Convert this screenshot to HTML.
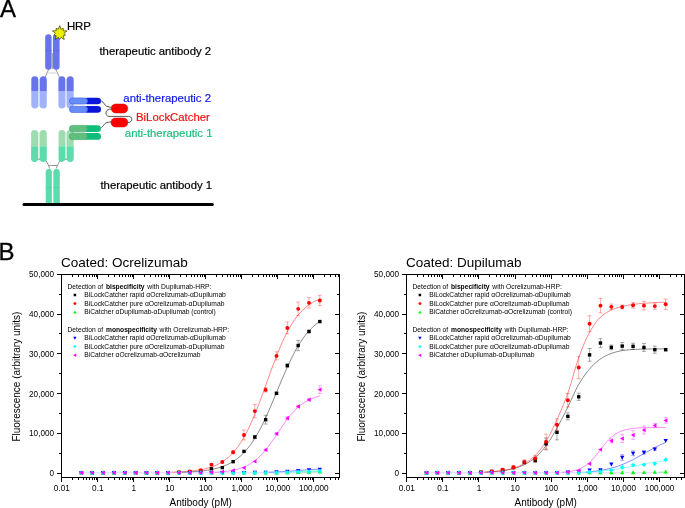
<!DOCTYPE html>
<html lang="en">
<head>
<meta charset="utf-8">
<title>BiLockCatcher figure</title>
<style>
html,body{margin:0;padding:0;background:#fff;}
body{width:685px;height:508px;overflow:hidden;}
svg{display:block;font-family:'Liberation Sans', Arial, sans-serif;}
</style>
</head>
<body>
<svg width="685" height="508" viewBox="0 0 685 508">
<rect width="685" height="508" fill="#fff"/>
<g id="panelA">
<!-- surface -->
<line x1="24" y1="204.6" x2="212.3" y2="204.6" stroke="#000" stroke-width="3" stroke-linecap="round"/>
<!-- therapeutic antibody 2 (blue) -->
<g>
<line x1="52.25" y1="53" x2="52.25" y2="69" stroke="#9a9a9a" stroke-width="1"/>
<rect x="45.2" y="34.2" width="6.4" height="35.6" rx="3.2" fill="#6874ec"/>
<rect x="52.9" y="34.2" width="6.7" height="35.6" rx="3.3" fill="#6874ec"/>
<path d="M45.2,50.6h6.4M52.9,50.6h6.7" stroke="#5c68e0" stroke-width="0.6"/>
<path d="M48.6,69.5L45,77.6M55.9,69.5L59.6,77.6" stroke="#333" stroke-width="0.5" fill="none"/>
<line x1="48.3" y1="73" x2="56.3" y2="73" stroke="#cfcfcf" stroke-width="1"/>
<rect x="38" y="79" width="2" height="28" fill="#e4e8fb"/>
<rect x="65" y="79" width="2" height="28" fill="#e4e8fb"/>
<g id="fabB">
<path d="M31.3,91V79.7a3.45,3.45 0 0 1 6.9,0V91z" fill="#6874ec"/>
<path d="M31.3,91V105.1a3.45,3.45 0 0 0 6.9,0V91z" fill="#9fb2fa"/>
<path d="M39.8,91V79.8a3.5,3.5 0 0 1 7,0V91z" fill="#6874ec"/>
<path d="M39.8,91V105a3.5,3.5 0 0 0 7,0V91z" fill="#9fb2fa"/>
<path d="M58.4,91V79.7a3.4,3.4 0 0 1 6.8,0V91z" fill="#6874ec"/>
<path d="M58.4,91V105.1a3.4,3.4 0 0 0 6.8,0V91z" fill="#9fb2fa"/>
<path d="M66.7,91V79.8a3.5,3.5 0 0 1 7,0V91z" fill="#6874ec"/>
<path d="M66.7,91V105a3.5,3.5 0 0 0 7,0V91z" fill="#9fb2fa"/>
</g>
</g>
<!-- therapeutic antibody 1 (green) -->
<g>
<rect x="38" y="132" width="2" height="28" fill="#dff3e8"/>
<rect x="65" y="132" width="2" height="28" fill="#dff3e8"/>
<path d="M31.1,146.2V133.45a3.45,3.45 0 0 1 6.9,0V146.2z" fill="#9edcb0"/>
<path d="M31.1,146.2V158.45a3.45,3.45 0 0 0 6.9,0V146.2z" fill="#5cdcac"/>
<path d="M39.8,146.2V133.5a3.5,3.5 0 0 1 7,0V146.2z" fill="#9edcb0"/>
<path d="M39.8,146.2V158.4a3.5,3.5 0 0 0 7,0V146.2z" fill="#5cdcac"/>
<path d="M58.6,146.2V133.3a3.3,3.3 0 0 1 6.6,0V146.2z" fill="#9edcb0"/>
<path d="M58.6,146.2V158.6a3.3,3.3 0 0 0 6.6,0V146.2z" fill="#5cdcac"/>
<path d="M66.8,146.2V133.45a3.45,3.45 0 0 1 6.9,0V146.2z" fill="#9edcb0"/>
<path d="M66.8,146.2V158.45a3.45,3.45 0 0 0 6.9,0V146.2z" fill="#5cdcac"/>
<path d="M37.8,159.2h2.2M65,159.2h2" stroke="#444" stroke-width="0.5"/>
<path d="M46,160.6L48.6,165.5L49.6,168.6M59.8,160.6L57.4,165.5L56.2,168.6M48.6,165.5H57.4" stroke="#333" stroke-width="0.5" fill="none"/>
<path d="M45.7,203V172.1a3.1,3.1 0 0 1 6.2,0V203z" fill="#5cdcac"/>
<path d="M53.3,203V172.2a3.25,3.25 0 0 1 6.5,0V203z" fill="#5cdcac"/>
<path d="M45.7,187.5h6.2M53.3,187.5h6.5" stroke="#4fcfa0" stroke-width="0.6"/>
</g>
<!-- star -->
<polygon id="star" points="59.70,25.60 61.03,29.21 63.29,28.36 63.18,30.77 67.02,30.92 64.00,33.30 65.50,35.19 63.18,35.83 64.23,39.53 61.03,37.39 59.70,39.40 58.37,37.39 55.17,39.53 56.22,35.83 53.90,35.19 55.40,33.30 52.38,30.92 56.22,30.77 56.11,28.36 58.37,29.21" fill="#eeee00" stroke="#2a2a00" stroke-width="0.65"/>
<!-- anti-therapeutic 2 bars -->
<g>
<rect x="84" y="97.7" width="17" height="6.6" rx="3.3" fill="#0a16dc"/><rect x="69.4" y="97.90" width="18.2" height="6.20" rx="3.10" fill="#668df6" stroke="#3f5fe0" stroke-width="0.6"/>
<rect x="84" y="106.1" width="17" height="6.6" rx="3.3" fill="#0a16dc"/><rect x="69.4" y="106.30" width="18.2" height="6.20" rx="3.10" fill="#668df6" stroke="#3f5fe0" stroke-width="0.6"/>
</g>
<!-- anti-therapeutic 1 bars -->
<g>
<rect x="84" y="125.2" width="17" height="6.8" rx="3.4" fill="#12bd7c"/><rect x="69.4" y="125.40" width="18.2" height="6.40" rx="3.20" fill="#5fbf7e" stroke="#3a9e62" stroke-width="0.6"/>
<rect x="84" y="133" width="17" height="6.8" rx="3.4" fill="#12bd7c"/><rect x="69.4" y="133.20" width="18.2" height="6.40" rx="3.20" fill="#5fbf7e" stroke="#3a9e62" stroke-width="0.6"/>
</g>
<!-- linkers -->
<path d="M101.1,100.8C104,102 104.5,105.5 106.7,106.3C108.3,106.9 110,107 111.6,107.4" fill="none" stroke="#111" stroke-width="0.7"/>
<path d="M111.6,108.9C110,109.3 108.6,109.3 107.6,110C105.6,111.4 105.4,114.6 107.4,116C108.4,116.5 109.5,116.4 111,116.4H128.4C130.5,116.4 131.8,117.6 131.8,119.3C131.8,121.2 130.4,122.3 127.9,122.6" fill="none" stroke="#111" stroke-width="0.7"/>
<path d="M101.3,127.6C103.5,126.5 103.8,124 105.8,123C107.4,122.2 109.4,122.1 111.2,121.8" fill="none" stroke="#111" stroke-width="0.7"/>
<!-- red capsules -->
<rect x="111.2" y="104" width="16.6" height="9" rx="4.5" fill="#ff0000" stroke="#d00000" stroke-width="0.5"/>
<path d="M113,109.2C115.5,109.6 117.6,108.4 118.3,106.6C118.7,105.4 119.4,104.6 120.6,104.3" fill="none" stroke="#c00000" stroke-width="0.5"/>
<rect x="111" y="118" width="16.9" height="9" rx="4.5" fill="#ff0000" stroke="#d00000" stroke-width="0.5"/>
<path d="M112.8,123.2C115.3,123.6 117.4,122.4 118.1,120.6C118.5,119.4 119.2,118.6 120.4,118.3" fill="none" stroke="#c00000" stroke-width="0.5"/>
<!-- labels -->
<g font-size="11.35" stroke-width="0.2">
<text x="211.1" y="54.9" text-anchor="end" fill="#000" stroke="#000">therapeutic antibody 2</text>
<text x="211" y="102" text-anchor="end" fill="#1420e4" stroke="#1420e4">anti-therapeutic 2</text>
<text x="209.8" y="120.6" text-anchor="end" fill="#f01010" stroke="#f01010">BiLockCatcher</text>
<text x="212.5" y="136.7" text-anchor="end" fill="#1cc07e" stroke="#1cc07e">anti-therapeutic 1</text>
<text x="212.1" y="189.2" text-anchor="end" fill="#000" stroke="#000">therapeutic antibody 1</text>
</g>
<text x="66.9" y="29.7" font-size="11.4" fill="#000" stroke="#000" stroke-width="0.2">HRP</text>
</g>

<text x="0" y="17.2" font-size="24" stroke="#000" stroke-width="0.3">A</text>
<text x="-1.6" y="260" font-size="24" stroke="#000" stroke-width="0.3">B</text>
<g>
<text x="61" y="267.2" font-size="13.5" fill="#000">Coated: Ocrelizumab</text>
<path d="M81.42,472.8H319.84" stroke="#d9d0ff" stroke-width="0.9" fill="none"/>
<path d="M181.89,472.21 L183.39,472.16 L184.89,472.1 L186.39,472.03 L187.89,471.96 L189.39,471.89 L190.88,471.81 L192.38,471.71 L193.88,471.61 L195.38,471.51 L196.88,471.39 L198.38,471.26 L199.88,471.12 L201.38,470.96 L202.88,470.8 L204.38,470.61 L205.88,470.42 L207.38,470.2 L208.88,469.96 L210.38,469.7 L211.88,469.42 L213.38,469.12 L214.88,468.78 L216.38,468.42 L217.88,468.03 L219.37,467.6 L220.87,467.13 L222.37,466.63 L223.87,466.08 L225.37,465.48 L226.87,464.84 L228.37,464.14 L229.87,463.38 L231.37,462.56 L232.87,461.68 L234.37,460.72 L235.87,459.69 L237.37,458.58 L238.87,457.39 L240.37,456.1 L241.87,454.72 L243.37,453.25 L244.87,451.67 L246.37,449.98 L247.86,448.18 L249.36,446.27 L250.86,444.23 L252.36,442.08 L253.86,439.81 L255.36,437.41 L256.86,434.88 L258.36,432.24 L259.86,429.47 L261.36,426.59 L262.86,423.59 L264.36,420.48 L265.86,417.28 L267.36,413.98 L268.86,410.6 L270.36,407.14 L271.86,403.63 L273.36,400.07 L274.86,396.47 L276.35,392.85 L277.85,389.23 L279.35,385.61 L280.85,382.02 L282.35,378.46 L283.85,374.95 L285.35,371.5 L286.85,368.12 L288.35,364.83 L289.85,361.63 L291.35,358.53 L292.85,355.54 L294.35,352.66 L295.85,349.9 L297.35,347.26 L298.85,344.75 L300.35,342.35 L301.85,340.09 L303.35,337.94 L304.84,335.91 L306.34,334.01 L307.84,332.21 L309.34,330.53 L310.84,328.96 L312.34,327.49 L313.84,326.11 L315.34,324.84 L316.84,323.65 L318.34,322.54 L319.84,321.51" fill="none" stroke="#000000" stroke-width="0.55" stroke-opacity="0.85"/>
<path d="M171.39,472.2 L172.89,472.15 L174.39,472.1 L175.89,472.04 L177.39,471.98 L178.89,471.91 L180.39,471.83 L181.89,471.75 L183.39,471.66 L184.89,471.56 L186.39,471.45 L187.89,471.33 L189.39,471.19 L190.88,471.05 L192.38,470.89 L193.88,470.72 L195.38,470.53 L196.88,470.32 L198.38,470.09 L199.88,469.84 L201.38,469.57 L202.88,469.27 L204.38,468.95 L205.88,468.59 L207.38,468.21 L208.88,467.78 L210.38,467.32 L211.88,466.81 L213.38,466.26 L214.88,465.66 L216.38,465.01 L217.88,464.3 L219.37,463.52 L220.87,462.68 L222.37,461.77 L223.87,460.78 L225.37,459.7 L226.87,458.54 L228.37,457.28 L229.87,455.92 L231.37,454.46 L232.87,452.88 L234.37,451.19 L235.87,449.37 L237.37,447.42 L238.87,445.34 L240.37,443.12 L241.87,440.76 L243.37,438.25 L244.87,435.59 L246.37,432.79 L247.86,429.84 L249.36,426.74 L250.86,423.49 L252.36,420.11 L253.86,416.59 L255.36,412.95 L256.86,409.19 L258.36,405.33 L259.86,401.38 L261.36,397.35 L262.86,393.26 L264.36,389.12 L265.86,384.96 L267.36,380.78 L268.86,376.62 L270.36,372.48 L271.86,368.38 L273.36,364.34 L274.86,360.38 L276.35,356.5 L277.85,352.73 L279.35,349.08 L280.85,345.54 L282.35,342.14 L283.85,338.88 L285.35,335.76 L286.85,332.79 L288.35,329.96 L289.85,327.29 L291.35,324.76 L292.85,322.38 L294.35,320.14 L295.85,318.04 L297.35,316.08 L298.85,314.24 L300.35,312.53 L301.85,310.94 L303.35,309.46 L304.84,308.09 L306.34,306.82 L307.84,305.65 L309.34,304.56 L310.84,303.56 L312.34,302.64 L313.84,301.79 L315.34,301 L316.84,300.29 L318.34,299.62 L319.84,299.02" fill="none" stroke="#ff0000" stroke-width="0.55" stroke-opacity="0.85"/>
<path d="M295.85,472.2 L297.35,472.16 L298.85,472.12 L300.35,472.09 L301.85,472.05 L303.35,472.01 L304.84,471.97 L306.34,471.93 L307.84,471.89 L309.34,471.85 L310.84,471.82 L312.34,471.78 L313.84,471.75 L315.34,471.71 L316.84,471.68 L318.34,471.65 L319.84,471.62" fill="none" stroke="#00ff00" stroke-width="0.55" stroke-opacity="0.85"/>
<path d="M268.86,472.2 L270.36,472.15 L271.86,472.09 L273.36,472.03 L274.86,471.97 L276.35,471.9 L277.85,471.83 L279.35,471.75 L280.85,471.67 L282.35,471.59 L283.85,471.5 L285.35,471.41 L286.85,471.31 L288.35,471.21 L289.85,471.11 L291.35,471 L292.85,470.89 L294.35,470.78 L295.85,470.67 L297.35,470.55 L298.85,470.44 L300.35,470.32 L301.85,470.21 L303.35,470.1 L304.84,469.99 L306.34,469.88 L307.84,469.77 L309.34,469.66 L310.84,469.56 L312.34,469.46 L313.84,469.37 L315.34,469.28 L316.84,469.19 L318.34,469.11 L319.84,469.03" fill="none" stroke="#0000ff" stroke-width="0.55" stroke-opacity="0.85"/>
<path d="M285.35,472.17 L286.85,472.12 L288.35,472.06 L289.85,472.01 L291.35,471.95 L292.85,471.88 L294.35,471.82 L295.85,471.76 L297.35,471.69 L298.85,471.62 L300.35,471.55 L301.85,471.49 L303.35,471.42 L304.84,471.35 L306.34,471.28 L307.84,471.21 L309.34,471.15 L310.84,471.08 L312.34,471.02 L313.84,470.96 L315.34,470.9 L316.84,470.84 L318.34,470.79 L319.84,470.73" fill="none" stroke="#00ffff" stroke-width="0.55" stroke-opacity="0.85"/>
<path d="M214.88,472.25 L216.38,472.16 L217.88,472.07 L219.37,471.96 L220.87,471.85 L222.37,471.72 L223.87,471.57 L225.37,471.41 L226.87,471.23 L228.37,471.03 L229.87,470.8 L231.37,470.55 L232.87,470.28 L234.37,469.97 L235.87,469.63 L237.37,469.25 L238.87,468.84 L240.37,468.37 L241.87,467.86 L243.37,467.3 L244.87,466.68 L246.37,466 L247.86,465.26 L249.36,464.44 L250.86,463.54 L252.36,462.57 L253.86,461.51 L255.36,460.37 L256.86,459.13 L258.36,457.8 L259.86,456.37 L261.36,454.85 L262.86,453.22 L264.36,451.51 L265.86,449.7 L267.36,447.8 L268.86,445.83 L270.36,443.78 L271.86,441.67 L273.36,439.5 L274.86,437.3 L276.35,435.06 L277.85,432.82 L279.35,430.57 L280.85,428.34 L282.35,426.13 L283.85,423.97 L285.35,421.86 L286.85,419.82 L288.35,417.85 L289.85,415.96 L291.35,414.15 L292.85,412.44 L294.35,410.83 L295.85,409.31 L297.35,407.89 L298.85,406.56 L300.35,405.33 L301.85,404.19 L303.35,403.13 L304.84,402.17 L306.34,401.28 L307.84,400.46 L309.34,399.72 L310.84,399.04 L312.34,398.43 L313.84,397.87 L315.34,397.36 L316.84,396.9 L318.34,396.49 L319.84,396.11" fill="none" stroke="#ff00ff" stroke-width="0.55" stroke-opacity="0.85"/>
<path d="M254.82,435.47V438.65M252.82,435.47h4M252.82,438.65h4" stroke="#000000" stroke-opacity="0.6" stroke-width="0.55" fill="none"/><path d="M265.65,415.29V424.05M263.65,415.29h4M263.65,424.05h4" stroke="#000000" stroke-opacity="0.6" stroke-width="0.55" fill="none"/><path d="M276.49,392.17V394.56M274.49,392.17h4M274.49,394.56h4" stroke="#000000" stroke-opacity="0.6" stroke-width="0.55" fill="none"/><path d="M287.33,363.95V367.13M285.33,363.95h4M285.33,367.13h4" stroke="#000000" stroke-opacity="0.6" stroke-width="0.55" fill="none"/><path d="M298.17,340.35V350.7M296.17,340.35h4M296.17,350.7h4" stroke="#000000" stroke-opacity="0.6" stroke-width="0.55" fill="none"/><path d="M309,330.32V332.71M307,330.32h4M307,332.71h4" stroke="#000000" stroke-opacity="0.6" stroke-width="0.55" fill="none"/><rect x="79.72" y="471.1" width="3.4" height="3.4" fill="#000000"/><rect x="90.56" y="471.1" width="3.4" height="3.4" fill="#000000"/><rect x="101.4" y="471.1" width="3.4" height="3.4" fill="#000000"/><rect x="112.23" y="471.1" width="3.4" height="3.4" fill="#000000"/><rect x="123.07" y="471.1" width="3.4" height="3.4" fill="#000000"/><rect x="133.91" y="471.1" width="3.4" height="3.4" fill="#000000"/><rect x="144.75" y="471.1" width="3.4" height="3.4" fill="#000000"/><rect x="155.58" y="471.1" width="3.4" height="3.4" fill="#000000"/><rect x="166.42" y="471.1" width="3.4" height="3.4" fill="#000000"/><rect x="177.26" y="470.7" width="3.4" height="3.4" fill="#000000"/><rect x="188.09" y="470.11" width="3.4" height="3.4" fill="#000000"/><rect x="198.93" y="469.11" width="3.4" height="3.4" fill="#000000"/><rect x="209.77" y="467.12" width="3.4" height="3.4" fill="#000000"/><rect x="220.61" y="465.93" width="3.4" height="3.4" fill="#000000"/><rect x="231.44" y="459.96" width="3.4" height="3.4" fill="#000000"/><rect x="242.28" y="449.69" width="3.4" height="3.4" fill="#000000"/><rect x="253.12" y="435.36" width="3.4" height="3.4" fill="#000000"/><rect x="263.95" y="417.97" width="3.4" height="3.4" fill="#000000"/><rect x="274.79" y="391.66" width="3.4" height="3.4" fill="#000000"/><rect x="285.63" y="363.84" width="3.4" height="3.4" fill="#000000"/><rect x="296.47" y="343.82" width="3.4" height="3.4" fill="#000000"/><rect x="307.3" y="329.81" width="3.4" height="3.4" fill="#000000"/><rect x="318.14" y="319.86" width="3.4" height="3.4" fill="#000000"/>
<path d="M211.47,463.41V465.8M209.47,463.41h4M209.47,465.8h4" stroke="#ff0000" stroke-opacity="0.6" stroke-width="0.55" fill="none"/><path d="M222.31,460.86V463.25M220.31,460.86h4M220.31,463.25h4" stroke="#ff0000" stroke-opacity="0.6" stroke-width="0.55" fill="none"/><path d="M233.14,450.63V453.82M231.14,450.63h4M231.14,453.82h4" stroke="#ff0000" stroke-opacity="0.6" stroke-width="0.55" fill="none"/><path d="M243.98,430.02V439.97M241.98,430.02h4M241.98,439.97h4" stroke="#ff0000" stroke-opacity="0.6" stroke-width="0.55" fill="none"/><path d="M254.82,404.54V417.68M252.82,404.54h4M252.82,417.68h4" stroke="#ff0000" stroke-opacity="0.6" stroke-width="0.55" fill="none"/><path d="M265.65,387.71V392.09M263.65,387.71h4M263.65,392.09h4" stroke="#ff0000" stroke-opacity="0.6" stroke-width="0.55" fill="none"/><path d="M276.49,351.77V360.05M274.49,351.77h4M274.49,360.05h4" stroke="#ff0000" stroke-opacity="0.6" stroke-width="0.55" fill="none"/><path d="M287.33,321.96V333.9M285.33,321.96h4M285.33,333.9h4" stroke="#ff0000" stroke-opacity="0.6" stroke-width="0.55" fill="none"/><path d="M298.17,302.06V315.59M296.17,302.06h4M296.17,315.59h4" stroke="#ff0000" stroke-opacity="0.6" stroke-width="0.55" fill="none"/><path d="M309,297.68V308.03M307,297.68h4M307,308.03h4" stroke="#ff0000" stroke-opacity="0.6" stroke-width="0.55" fill="none"/><path d="M319.84,295.29V305.64M317.84,295.29h4M317.84,305.64h4" stroke="#ff0000" stroke-opacity="0.6" stroke-width="0.55" fill="none"/><circle cx="81.42" cy="472.8" r="1.95" fill="#ff0000"/><circle cx="92.26" cy="472.8" r="1.95" fill="#ff0000"/><circle cx="103.1" cy="472.8" r="1.95" fill="#ff0000"/><circle cx="113.93" cy="472.8" r="1.95" fill="#ff0000"/><circle cx="124.77" cy="472.8" r="1.95" fill="#ff0000"/><circle cx="135.61" cy="472.8" r="1.95" fill="#ff0000"/><circle cx="146.45" cy="472.8" r="1.95" fill="#ff0000"/><circle cx="157.28" cy="472.8" r="1.95" fill="#ff0000"/><circle cx="168.12" cy="472.8" r="1.95" fill="#ff0000"/><circle cx="178.96" cy="472.2" r="1.95" fill="#ff0000"/><circle cx="189.79" cy="471.41" r="1.95" fill="#ff0000"/><circle cx="200.63" cy="470.1" r="1.95" fill="#ff0000"/><circle cx="211.47" cy="464.6" r="1.95" fill="#ff0000"/><circle cx="222.31" cy="462.06" r="1.95" fill="#ff0000"/><circle cx="233.14" cy="452.23" r="1.95" fill="#ff0000"/><circle cx="243.98" cy="434.99" r="1.95" fill="#ff0000"/><circle cx="254.82" cy="411.11" r="1.95" fill="#ff0000"/><circle cx="265.65" cy="389.9" r="1.95" fill="#ff0000"/><circle cx="276.49" cy="355.91" r="1.95" fill="#ff0000"/><circle cx="287.33" cy="327.93" r="1.95" fill="#ff0000"/><circle cx="298.17" cy="308.83" r="1.95" fill="#ff0000"/><circle cx="309" cy="302.86" r="1.95" fill="#ff0000"/><circle cx="319.84" cy="300.47" r="1.95" fill="#ff0000"/>
<polygon points="81.42,470.59 83.56,474.53 79.29,474.53" fill="#00ff00"/><polygon points="92.26,470.59 94.4,474.53 90.12,474.53" fill="#00ff00"/><polygon points="103.1,470.59 105.24,474.53 100.96,474.53" fill="#00ff00"/><polygon points="113.93,470.59 116.07,474.53 111.8,474.53" fill="#00ff00"/><polygon points="124.77,470.59 126.91,474.53 122.63,474.53" fill="#00ff00"/><polygon points="135.61,470.59 137.75,474.53 133.47,474.53" fill="#00ff00"/><polygon points="146.45,470.59 148.58,474.53 144.31,474.53" fill="#00ff00"/><polygon points="157.28,470.59 159.42,474.53 155.15,474.53" fill="#00ff00"/><polygon points="168.12,470.59 170.26,474.53 165.98,474.53" fill="#00ff00"/><polygon points="178.96,470.59 181.09,474.53 176.82,474.53" fill="#00ff00"/><polygon points="189.79,470.59 191.93,474.53 187.66,474.53" fill="#00ff00"/><polygon points="200.63,470.59 202.77,474.53 198.49,474.53" fill="#00ff00"/><polygon points="211.47,470.59 213.61,474.53 209.33,474.53" fill="#00ff00"/><polygon points="222.31,470.59 224.44,474.53 220.17,474.53" fill="#00ff00"/><polygon points="233.14,470.59 235.28,474.53 231.01,474.53" fill="#00ff00"/><polygon points="243.98,470.59 246.12,474.53 241.84,474.53" fill="#00ff00"/><polygon points="254.82,470.55 256.95,474.49 252.68,474.49" fill="#00ff00"/><polygon points="265.65,470.51 267.79,474.45 263.52,474.45" fill="#00ff00"/><polygon points="276.49,470.47 278.63,474.41 274.35,474.41" fill="#00ff00"/><polygon points="287.33,470.31 289.47,474.25 285.19,474.25" fill="#00ff00"/><polygon points="298.17,470.07 300.3,474.01 296.03,474.01" fill="#00ff00"/><polygon points="309,469.84 311.14,473.77 306.86,473.77" fill="#00ff00"/><polygon points="319.84,469.64 321.98,473.57 317.7,473.57" fill="#00ff00"/>
<polygon points="81.42,475.05 83.56,471.11 79.29,471.11" fill="#0000ff"/><polygon points="92.26,475.05 94.4,471.11 90.12,471.11" fill="#0000ff"/><polygon points="103.1,475.05 105.24,471.11 100.96,471.11" fill="#0000ff"/><polygon points="113.93,475.05 116.07,471.11 111.8,471.11" fill="#0000ff"/><polygon points="124.77,475.05 126.91,471.11 122.63,471.11" fill="#0000ff"/><polygon points="135.61,475.05 137.75,471.11 133.47,471.11" fill="#0000ff"/><polygon points="146.45,475.05 148.58,471.11 144.31,471.11" fill="#0000ff"/><polygon points="157.28,475.05 159.42,471.11 155.15,471.11" fill="#0000ff"/><polygon points="168.12,475.05 170.26,471.11 165.98,471.11" fill="#0000ff"/><polygon points="178.96,475.05 181.09,471.11 176.82,471.11" fill="#0000ff"/><polygon points="189.79,475.05 191.93,471.11 187.66,471.11" fill="#0000ff"/><polygon points="200.63,475.05 202.77,471.11 198.49,471.11" fill="#0000ff"/><polygon points="211.47,475.05 213.61,471.11 209.33,471.11" fill="#0000ff"/><polygon points="222.31,475.05 224.44,471.11 220.17,471.11" fill="#0000ff"/><polygon points="233.14,474.97 235.28,471.03 231.01,471.03" fill="#0000ff"/><polygon points="243.98,474.85 246.12,470.92 241.84,470.92" fill="#0000ff"/><polygon points="254.82,474.73 256.95,470.8 252.68,470.8" fill="#0000ff"/><polygon points="265.65,474.57 267.79,470.64 263.52,470.64" fill="#0000ff"/><polygon points="276.49,474.26 278.63,470.32 274.35,470.32" fill="#0000ff"/><polygon points="287.33,473.66 289.47,469.72 285.19,469.72" fill="#0000ff"/><polygon points="298.17,472.86 300.3,468.93 296.03,468.93" fill="#0000ff"/><polygon points="309,472.27 311.14,468.33 306.86,468.33" fill="#0000ff"/><polygon points="319.84,471.67 321.98,467.73 317.7,467.73" fill="#0000ff"/>
<polygon points="81.42,470.53 83.77,472.88 81.42,475.23 79.07,472.88" fill="#00ffff"/><polygon points="92.26,470.53 94.61,472.88 92.26,475.23 89.91,472.88" fill="#00ffff"/><polygon points="103.1,470.53 105.45,472.88 103.1,475.23 100.75,472.88" fill="#00ffff"/><polygon points="113.93,470.53 116.28,472.88 113.93,475.23 111.58,472.88" fill="#00ffff"/><polygon points="124.77,470.53 127.12,472.88 124.77,475.23 122.42,472.88" fill="#00ffff"/><polygon points="135.61,470.53 137.96,472.88 135.61,475.23 133.26,472.88" fill="#00ffff"/><polygon points="146.45,470.53 148.8,472.88 146.45,475.23 144.1,472.88" fill="#00ffff"/><polygon points="157.28,470.53 159.63,472.88 157.28,475.23 154.93,472.88" fill="#00ffff"/><polygon points="168.12,470.53 170.47,472.88 168.12,475.23 165.77,472.88" fill="#00ffff"/><polygon points="178.96,470.53 181.31,472.88 178.96,475.23 176.61,472.88" fill="#00ffff"/><polygon points="189.79,470.53 192.14,472.88 189.79,475.23 187.44,472.88" fill="#00ffff"/><polygon points="200.63,470.53 202.98,472.88 200.63,475.23 198.28,472.88" fill="#00ffff"/><polygon points="211.47,470.53 213.82,472.88 211.47,475.23 209.12,472.88" fill="#00ffff"/><polygon points="222.31,470.53 224.66,472.88 222.31,475.23 219.96,472.88" fill="#00ffff"/><polygon points="233.14,470.53 235.49,472.88 233.14,475.23 230.79,472.88" fill="#00ffff"/><polygon points="243.98,470.49 246.33,472.84 243.98,475.19 241.63,472.84" fill="#00ffff"/><polygon points="254.82,470.45 257.17,472.8 254.82,475.15 252.47,472.8" fill="#00ffff"/><polygon points="265.65,470.37 268,472.72 265.65,475.07 263.3,472.72" fill="#00ffff"/><polygon points="276.49,470.25 278.84,472.6 276.49,474.95 274.14,472.6" fill="#00ffff"/><polygon points="287.33,469.97 289.68,472.32 287.33,474.67 284.98,472.32" fill="#00ffff"/><polygon points="298.17,469.58 300.52,471.93 298.17,474.28 295.82,471.93" fill="#00ffff"/><polygon points="309,469.18 311.35,471.53 309,473.88 306.65,471.53" fill="#00ffff"/><polygon points="319.84,468.78 322.19,471.13 319.84,473.48 317.49,471.13" fill="#00ffff"/>
<path d="M265.65,448.96V450.95M263.65,448.96h4M263.65,450.95h4" stroke="#ff00ff" stroke-opacity="0.6" stroke-width="0.55" fill="none"/><path d="M276.49,432.6V434.99M274.49,432.6h4M274.49,434.99h4" stroke="#ff00ff" stroke-opacity="0.6" stroke-width="0.55" fill="none"/><path d="M287.33,416.64V419.83M285.33,416.64h4M285.33,419.83h4" stroke="#ff00ff" stroke-opacity="0.6" stroke-width="0.55" fill="none"/><path d="M298.17,405.3V407.69M296.17,405.3h4M296.17,407.69h4" stroke="#ff00ff" stroke-opacity="0.6" stroke-width="0.55" fill="none"/><path d="M309,398.46V400.84M307,398.46h4M307,400.84h4" stroke="#ff00ff" stroke-opacity="0.6" stroke-width="0.55" fill="none"/><path d="M319.84,385.84V393.4M317.84,385.84h4M317.84,393.4h4" stroke="#ff00ff" stroke-opacity="0.6" stroke-width="0.55" fill="none"/><polygon points="79.17,472.8 83.11,470.66 83.11,474.94" fill="#ff00ff"/><polygon points="90.01,472.8 93.95,470.66 93.95,474.94" fill="#ff00ff"/><polygon points="100.85,472.8 104.79,470.66 104.79,474.94" fill="#ff00ff"/><polygon points="111.68,472.8 115.62,470.66 115.62,474.94" fill="#ff00ff"/><polygon points="122.52,472.8 126.46,470.66 126.46,474.94" fill="#ff00ff"/><polygon points="133.36,472.8 137.3,470.66 137.3,474.94" fill="#ff00ff"/><polygon points="144.2,472.8 148.13,470.66 148.13,474.94" fill="#ff00ff"/><polygon points="155.03,472.8 158.97,470.66 158.97,474.94" fill="#ff00ff"/><polygon points="165.87,472.8 169.81,470.66 169.81,474.94" fill="#ff00ff"/><polygon points="176.71,472.8 180.64,470.66 180.64,474.94" fill="#ff00ff"/><polygon points="187.54,472.8 191.48,470.66 191.48,474.94" fill="#ff00ff"/><polygon points="198.38,472.8 202.32,470.66 202.32,474.94" fill="#ff00ff"/><polygon points="209.22,472.4 213.16,470.27 213.16,474.54" fill="#ff00ff"/><polygon points="220.06,471.81 223.99,469.67 223.99,473.94" fill="#ff00ff"/><polygon points="230.89,470.45 234.83,468.32 234.83,472.59" fill="#ff00ff"/><polygon points="241.73,467.87 245.67,465.73 245.67,470" fill="#ff00ff"/><polygon points="252.57,461.42 256.5,459.28 256.5,463.56" fill="#ff00ff"/><polygon points="263.4,449.96 267.34,447.82 267.34,452.09" fill="#ff00ff"/><polygon points="274.24,433.8 278.18,431.66 278.18,435.94" fill="#ff00ff"/><polygon points="285.08,418.24 289.02,416.1 289.02,420.37" fill="#ff00ff"/><polygon points="295.92,406.5 299.85,404.36 299.85,408.63" fill="#ff00ff"/><polygon points="306.75,399.65 310.69,397.51 310.69,401.79" fill="#ff00ff"/><polygon points="317.59,389.62 321.53,387.48 321.53,391.76" fill="#ff00ff"/>
<rect x="61.5" y="274.5" width="278" height="203.0" fill="none" stroke="#000" stroke-width="1"/>
<path d="M57,473.5H61.5M339.5,473.5h-4.5M59,453.5H61.5M339.5,453.5h-2.5M57,433.5H61.5M339.5,433.5h-4.5M59,413.5H61.5M339.5,413.5h-2.5M57,393.5H61.5M339.5,393.5h-4.5M59,373.5H61.5M339.5,373.5h-2.5M57,353.5H61.5M339.5,353.5h-4.5M59,333.5H61.5M339.5,333.5h-2.5M57,314.5H61.5M339.5,314.5h-4.5M59,294.5H61.5M339.5,294.5h-2.5M57,274.5H61.5M339.5,274.5h-4.5M61.5,477.5v4.5M61.5,274.5v4.5M72.5,477.5v2.5M72.5,274.5v2.5M78.5,477.5v2.5M78.5,274.5v2.5M83.5,477.5v2.5M83.5,274.5v2.5M86.5,477.5v2.5M86.5,274.5v2.5M89.5,477.5v2.5M89.5,274.5v2.5M92.5,477.5v2.5M92.5,274.5v2.5M94.5,477.5v2.5M94.5,274.5v2.5M96.5,477.5v2.5M96.5,274.5v2.5M97.5,477.5v4.5M97.5,274.5v4.5M108.5,477.5v2.5M108.5,274.5v2.5M114.5,477.5v2.5M114.5,274.5v2.5M119.5,477.5v2.5M119.5,274.5v2.5M122.5,477.5v2.5M122.5,274.5v2.5M125.5,477.5v2.5M125.5,274.5v2.5M128.5,477.5v2.5M128.5,274.5v2.5M130.5,477.5v2.5M130.5,274.5v2.5M132.5,477.5v2.5M132.5,274.5v2.5M133.5,477.5v4.5M133.5,274.5v4.5M144.5,477.5v2.5M144.5,274.5v2.5M150.5,477.5v2.5M150.5,274.5v2.5M155.5,477.5v2.5M155.5,274.5v2.5M158.5,477.5v2.5M158.5,274.5v2.5M161.5,477.5v2.5M161.5,274.5v2.5M164.5,477.5v2.5M164.5,274.5v2.5M166.5,477.5v2.5M166.5,274.5v2.5M168.5,477.5v2.5M168.5,274.5v2.5M169.5,477.5v4.5M169.5,274.5v4.5M180.5,477.5v2.5M180.5,274.5v2.5M186.5,477.5v2.5M186.5,274.5v2.5M191.5,477.5v2.5M191.5,274.5v2.5M194.5,477.5v2.5M194.5,274.5v2.5M197.5,477.5v2.5M197.5,274.5v2.5M200.5,477.5v2.5M200.5,274.5v2.5M202.5,477.5v2.5M202.5,274.5v2.5M204.5,477.5v2.5M204.5,274.5v2.5M205.5,477.5v4.5M205.5,274.5v4.5M216.5,477.5v2.5M216.5,274.5v2.5M222.5,477.5v2.5M222.5,274.5v2.5M227.5,477.5v2.5M227.5,274.5v2.5M230.5,477.5v2.5M230.5,274.5v2.5M233.5,477.5v2.5M233.5,274.5v2.5M236.5,477.5v2.5M236.5,274.5v2.5M238.5,477.5v2.5M238.5,274.5v2.5M240.5,477.5v2.5M240.5,274.5v2.5M241.5,477.5v4.5M241.5,274.5v4.5M252.5,477.5v2.5M252.5,274.5v2.5M258.5,477.5v2.5M258.5,274.5v2.5M263.5,477.5v2.5M263.5,274.5v2.5M266.5,477.5v2.5M266.5,274.5v2.5M269.5,477.5v2.5M269.5,274.5v2.5M272.5,477.5v2.5M272.5,274.5v2.5M274.5,477.5v2.5M274.5,274.5v2.5M276.5,477.5v2.5M276.5,274.5v2.5M277.5,477.5v4.5M277.5,274.5v4.5M288.5,477.5v2.5M288.5,274.5v2.5M294.5,477.5v2.5M294.5,274.5v2.5M299.5,477.5v2.5M299.5,274.5v2.5M302.5,477.5v2.5M302.5,274.5v2.5M305.5,477.5v2.5M305.5,274.5v2.5M308.5,477.5v2.5M308.5,274.5v2.5M310.5,477.5v2.5M310.5,274.5v2.5M312.5,477.5v2.5M312.5,274.5v2.5M313.5,477.5v4.5M313.5,274.5v4.5M324.5,477.5v2.5M324.5,274.5v2.5M330.5,477.5v2.5M330.5,274.5v2.5M335.5,477.5v2.5M335.5,274.5v2.5M338.5,477.5v2.5M338.5,274.5v2.5" stroke="#000" stroke-width="1" fill="none"/>
<g font-size="8.2" fill="#000"><text x="54.1" y="476.1" text-anchor="end">0</text><text x="54.1" y="436.3" text-anchor="end">10,000</text><text x="54.1" y="396.5" text-anchor="end">20,000</text><text x="54.1" y="356.7" text-anchor="end">30,000</text><text x="54.1" y="316.9" text-anchor="end">40,000</text><text x="54.1" y="277.1" text-anchor="end">50,000</text><text x="61.8" y="490.7" text-anchor="middle">0.01</text><text x="97.8" y="490.7" text-anchor="middle">0.1</text><text x="133.8" y="490.7" text-anchor="middle">1</text><text x="169.8" y="490.7" text-anchor="middle">10</text><text x="205.8" y="490.7" text-anchor="middle">100</text><text x="241.8" y="490.7" text-anchor="middle">1,000</text><text x="277.8" y="490.7" text-anchor="middle">10,000</text><text x="313.8" y="490.7" text-anchor="middle">100,000</text></g>
<text x="200.7" y="505.6" font-size="10" text-anchor="middle">Antibody (pM)</text>
<text transform="translate(20,376.6) rotate(-90)" font-size="10" text-anchor="middle">Fluorescence (arbitrary units)</text>
<g font-size="6.7" fill="#000"><text x="67.5" y="288.6">Detection of <tspan font-weight="bold" dx="0.9">bispecificity</tspan><tspan dx="0.9"> with Dupilumab-HRP:</tspan></text><rect x="73.65" y="293.75" width="2.5" height="2.5" fill="#000000"/><text x="84.3" y="297.2">BiLockCatcher rapid αOcrelizumab-αDupilumab</text><circle cx="74.9" cy="303.6" r="1.45" fill="#ff0000"/><text x="84.3" y="305.8">BiLockCatcher pure αOcrelizumab-αDupilumab</text><polygon points="74.9,310.4 76.61,313.55 73.19,313.55" fill="#00ff00"/><text x="84.3" y="314.4">BiCatcher αDupilumab-αDupilumab (control)</text><text x="67.5" y="331.6">Detection of <tspan font-weight="bold" dx="0.9">monospecificity</tspan><tspan dx="0.9"> with Ocrelizumab-HRP:</tspan></text><polygon points="74.9,339.8 76.61,336.65 73.19,336.65" fill="#0000ff"/><text x="84.3" y="340.2">BiLockCatcher rapid αOcrelizumab-αDupilumab</text><polygon points="74.9,344.9 76.6,346.6 74.9,348.3 73.2,346.6" fill="#00ffff"/><text x="84.3" y="348.8">BiLockCatcher pure αOcrelizumab-αDupilumab</text><polygon points="73.1,355.2 76.25,353.49 76.25,356.91" fill="#ff00ff"/><text x="84.3" y="357.4">BiCatcher αOcrelizumab-αOcrelizumab</text></g>
</g>
<g>
<text x="406" y="267.2" font-size="13.5" fill="#000">Coated: Dupilumab</text>
<path d="M426.49,472.8H665.7" stroke="#d9d0ff" stroke-width="0.9" fill="none"/>
<path d="M485.16,472.17 L486.67,472.09 L488.17,472.01 L489.68,471.93 L491.18,471.83 L492.69,471.73 L494.19,471.62 L495.7,471.49 L497.2,471.35 L498.7,471.19 L500.21,471.03 L501.71,470.85 L503.22,470.65 L504.72,470.43 L506.23,470.19 L507.73,469.92 L509.24,469.62 L510.74,469.3 L512.24,468.96 L513.75,468.59 L515.25,468.18 L516.76,467.72 L518.26,467.21 L519.77,466.66 L521.27,466.07 L522.78,465.43 L524.28,464.74 L525.78,464 L527.29,463.17 L528.79,462.26 L530.3,461.27 L531.8,460.21 L533.31,459.08 L534.81,457.89 L536.32,456.61 L537.82,455.2 L539.33,453.67 L540.83,452.03 L542.33,450.29 L543.84,448.47 L545.34,446.56 L546.85,444.58 L548.35,442.45 L549.86,440.16 L551.36,437.75 L552.87,435.25 L554.37,432.67 L555.87,430.05 L557.38,427.41 L558.88,424.68 L560.39,421.86 L561.89,418.96 L563.4,416 L564.9,413 L566.41,409.98 L567.91,406.95 L569.41,403.83 L570.92,400.56 L572.42,397.23 L573.93,393.92 L575.43,390.71 L576.94,387.68 L578.44,384.92 L579.95,382.39 L581.45,379.97 L582.95,377.66 L584.46,375.46 L585.96,373.38 L587.47,371.43 L588.97,369.62 L590.48,367.94 L591.98,366.34 L593.49,364.8 L594.99,363.36 L596.49,362.01 L598,360.76 L599.5,359.63 L601.01,358.62 L602.51,357.67 L604.02,356.79 L605.52,355.96 L607.03,355.19 L608.53,354.5 L610.04,353.88 L611.54,353.33 L613.04,352.84 L614.55,352.37 L616.05,351.94 L617.56,351.54 L619.06,351.19 L620.57,350.89 L622.07,350.64 L623.58,350.42 L625.08,350.23 L626.58,350.05 L628.09,349.89 L629.59,349.75 L631.1,349.63 L632.6,349.53 L634.11,349.45 L635.61,349.38 L637.12,349.31 L638.62,349.25 L640.12,349.2 L641.63,349.16 L643.13,349.12 L644.64,349.09 L646.14,349.06 L647.65,349.04 L649.15,349.01 L650.66,348.99 L652.16,348.97 L653.66,348.96 L655.17,348.94 L656.67,348.93 L658.18,348.91 L659.68,348.9 L661.19,348.89 L662.69,348.88 L664.2,348.87 L665.7,348.86" fill="none" stroke="#000000" stroke-width="0.55" stroke-opacity="0.85"/>
<path d="M482.16,472.23 L483.66,472.16 L485.16,472.09 L486.67,472.01 L488.17,471.92 L489.68,471.82 L491.18,471.72 L492.69,471.6 L494.19,471.48 L495.7,471.33 L497.2,471.18 L498.7,471 L500.21,470.82 L501.71,470.61 L503.22,470.4 L504.72,470.15 L506.23,469.88 L507.73,469.58 L509.24,469.24 L510.74,468.89 L512.24,468.5 L513.75,468.08 L515.25,467.62 L516.76,467.1 L518.26,466.53 L519.77,465.91 L521.27,465.23 L522.78,464.51 L524.28,463.73 L525.78,462.88 L527.29,461.93 L528.79,460.89 L530.3,459.75 L531.8,458.53 L533.31,457.22 L534.81,455.84 L536.32,454.35 L537.82,452.7 L539.33,450.9 L540.83,448.96 L542.33,446.89 L543.84,444.71 L545.34,442.42 L546.85,440.02 L548.35,437.39 L549.86,434.56 L551.36,431.55 L552.87,428.41 L554.37,425.17 L555.87,421.89 L557.38,418.59 L558.88,415.26 L560.39,411.86 L561.89,408.36 L563.4,404.75 L564.9,401.01 L566.41,397.1 L567.91,393.01 L569.41,388.53 L570.92,383.61 L572.42,378.42 L573.93,373.14 L575.43,367.96 L576.94,363.03 L578.44,358.54 L579.95,354.45 L581.45,350.48 L582.95,346.64 L584.46,342.98 L585.96,339.53 L587.47,336.33 L588.97,333.41 L590.48,330.77 L591.98,328.26 L593.49,325.87 L594.99,323.64 L596.49,321.58 L598,319.72 L599.5,318.09 L601.01,316.7 L602.51,315.45 L604.02,314.29 L605.52,313.23 L607.03,312.27 L608.53,311.4 L610.04,310.62 L611.54,309.93 L613.04,309.3 L614.55,308.72 L616.05,308.19 L617.56,307.7 L619.06,307.25 L620.57,306.84 L622.07,306.47 L623.58,306.13 L625.08,305.81 L626.58,305.51 L628.09,305.23 L629.59,304.97 L631.1,304.73 L632.6,304.51 L634.11,304.31 L635.61,304.11 L637.12,303.93 L638.62,303.75 L640.12,303.59 L641.63,303.45 L643.13,303.32 L644.64,303.21 L646.14,303.1 L647.65,303.01 L649.15,302.93 L650.66,302.85 L652.16,302.78 L653.66,302.71 L655.17,302.64 L656.67,302.58 L658.18,302.52 L659.68,302.46 L661.19,302.4 L662.69,302.35 L664.2,302.3 L665.7,302.26" fill="none" stroke="#ff0000" stroke-width="0.55" stroke-opacity="0.85"/>
<path d="M658.18,472.17 L659.68,472.13 L661.19,472.09 L662.69,472.04 L664.2,472 L665.7,471.95" fill="none" stroke="#00ff00" stroke-width="0.55" stroke-opacity="0.85"/>
<path d="M585.96,472.17 L587.47,472.05 L588.97,471.91 L590.48,471.76 L591.98,471.6 L593.49,471.43 L594.99,471.25 L596.49,471.05 L598,470.83 L599.5,470.6 L601.01,470.35 L602.51,470.09 L604.02,469.81 L605.52,469.5 L607.03,469.18 L608.53,468.83 L610.04,468.46 L611.54,468.07 L613.04,467.65 L614.55,467.21 L616.05,466.74 L617.56,466.25 L619.06,465.73 L620.57,465.18 L622.07,464.6 L623.58,464 L625.08,463.37 L626.58,462.71 L628.09,462.03 L629.59,461.32 L631.1,460.58 L632.6,459.83 L634.11,459.05 L635.61,458.26 L637.12,457.45 L638.62,456.62 L640.12,455.78 L641.63,454.94 L643.13,454.08 L644.64,453.23 L646.14,452.37 L647.65,451.51 L649.15,450.66 L650.66,449.82 L652.16,448.99 L653.66,448.18 L655.17,447.38 L656.67,446.59 L658.18,445.83 L659.68,445.09 L661.19,444.37 L662.69,443.68 L664.2,443.02 L665.7,442.38" fill="none" stroke="#0000ff" stroke-width="0.55" stroke-opacity="0.85"/>
<path d="M579.95,472.21 L581.45,472.15 L582.95,472.09 L584.46,472.03 L585.96,471.96 L587.47,471.89 L588.97,471.81 L590.48,471.73 L591.98,471.64 L593.49,471.55 L594.99,471.44 L596.49,471.34 L598,471.22 L599.5,471.1 L601.01,470.97 L602.51,470.83 L604.02,470.68 L605.52,470.53 L607.03,470.36 L608.53,470.19 L610.04,470.01 L611.54,469.82 L613.04,469.62 L614.55,469.41 L616.05,469.19 L617.56,468.97 L619.06,468.73 L620.57,468.49 L622.07,468.23 L623.58,467.98 L625.08,467.71 L626.58,467.44 L628.09,467.16 L629.59,466.87 L631.1,466.59 L632.6,466.29 L634.11,466 L635.61,465.7 L637.12,465.41 L638.62,465.11 L640.12,464.82 L641.63,464.53 L643.13,464.24 L644.64,463.95 L646.14,463.67 L647.65,463.39 L649.15,463.13 L650.66,462.86 L652.16,462.61 L653.66,462.36 L655.17,462.12 L656.67,461.89 L658.18,461.67 L659.68,461.46 L661.19,461.25 L662.69,461.06 L664.2,460.87 L665.7,460.7" fill="none" stroke="#00ffff" stroke-width="0.55" stroke-opacity="0.85"/>
<path d="M561.89,472.25 L563.4,472.14 L564.9,472.02 L566.41,471.88 L567.91,471.71 L569.41,471.51 L570.92,471.27 L572.42,471 L573.93,470.67 L575.43,470.29 L576.94,469.85 L578.44,469.34 L579.95,468.74 L581.45,468.06 L582.95,467.27 L584.46,466.38 L585.96,465.37 L587.47,464.23 L588.97,462.97 L590.48,461.57 L591.98,460.05 L593.49,458.41 L594.99,456.66 L596.49,454.82 L598,452.92 L599.5,450.98 L601.01,449.02 L602.51,447.08 L604.02,445.18 L605.52,443.36 L607.03,441.62 L608.53,439.99 L610.04,438.49 L611.54,437.11 L613.04,435.86 L614.55,434.74 L616.05,433.74 L617.56,432.86 L619.06,432.09 L620.57,431.41 L622.07,430.83 L623.58,430.32 L625.08,429.89 L626.58,429.52 L628.09,429.2 L629.59,428.93 L631.1,428.7 L632.6,428.5 L634.11,428.33 L635.61,428.19 L637.12,428.07 L638.62,427.97 L640.12,427.89 L641.63,427.82 L643.13,427.76 L644.64,427.7 L646.14,427.66 L647.65,427.62 L649.15,427.59 L650.66,427.57 L652.16,427.55 L653.66,427.53 L655.17,427.51 L656.67,427.5 L658.18,427.49 L659.68,427.48 L661.19,427.47 L662.69,427.46 L664.2,427.46 L665.7,427.45" fill="none" stroke="#ff00ff" stroke-width="0.55" stroke-opacity="0.85"/>
<path d="M535.22,458.43V462.41M533.22,458.43h4M533.22,462.41h4" stroke="#000000" stroke-opacity="0.6" stroke-width="0.55" fill="none"/><path d="M546.1,437.9V449.84M544.1,437.9h4M544.1,449.84h4" stroke="#000000" stroke-opacity="0.6" stroke-width="0.55" fill="none"/><path d="M556.97,424.76V439.89M554.97,424.76h4M554.97,439.89h4" stroke="#000000" stroke-opacity="0.6" stroke-width="0.55" fill="none"/><path d="M567.84,412.8V419.97M565.84,412.8h4M565.84,419.97h4" stroke="#000000" stroke-opacity="0.6" stroke-width="0.55" fill="none"/><path d="M578.71,393.2V400.37M576.71,393.2h4M576.71,400.37h4" stroke="#000000" stroke-opacity="0.6" stroke-width="0.55" fill="none"/><path d="M589.59,348.51V361.24M587.59,348.51h4M587.59,361.24h4" stroke="#000000" stroke-opacity="0.6" stroke-width="0.55" fill="none"/><path d="M600.46,338.68V347.43M598.46,338.68h4M598.46,347.43h4" stroke="#000000" stroke-opacity="0.6" stroke-width="0.55" fill="none"/><path d="M611.33,345.04V349.82M609.33,345.04h4M609.33,349.82h4" stroke="#000000" stroke-opacity="0.6" stroke-width="0.55" fill="none"/><path d="M622.21,342.5V349.66M620.21,342.5h4M620.21,349.66h4" stroke="#000000" stroke-opacity="0.6" stroke-width="0.55" fill="none"/><path d="M633.08,343.17V349.54M631.08,343.17h4M631.08,349.54h4" stroke="#000000" stroke-opacity="0.6" stroke-width="0.55" fill="none"/><path d="M643.95,343.45V351.41M641.95,343.45h4M641.95,351.41h4" stroke="#000000" stroke-opacity="0.6" stroke-width="0.55" fill="none"/><path d="M654.83,346.08V353.24M652.83,346.08h4M652.83,353.24h4" stroke="#000000" stroke-opacity="0.6" stroke-width="0.55" fill="none"/><path d="M665.7,348.47V350.85M663.7,348.47h4M663.7,350.85h4" stroke="#000000" stroke-opacity="0.6" stroke-width="0.55" fill="none"/><rect x="424.79" y="471.1" width="3.4" height="3.4" fill="#000000"/><rect x="435.66" y="471.1" width="3.4" height="3.4" fill="#000000"/><rect x="446.54" y="471.1" width="3.4" height="3.4" fill="#000000"/><rect x="457.41" y="471.1" width="3.4" height="3.4" fill="#000000"/><rect x="468.28" y="471.1" width="3.4" height="3.4" fill="#000000"/><rect x="479.16" y="470.5" width="3.4" height="3.4" fill="#000000"/><rect x="490.03" y="469.71" width="3.4" height="3.4" fill="#000000"/><rect x="500.9" y="468.12" width="3.4" height="3.4" fill="#000000"/><rect x="511.78" y="465.93" width="3.4" height="3.4" fill="#000000"/><rect x="522.65" y="460.75" width="3.4" height="3.4" fill="#000000"/><rect x="533.52" y="458.72" width="3.4" height="3.4" fill="#000000"/><rect x="544.4" y="442.17" width="3.4" height="3.4" fill="#000000"/><rect x="555.27" y="430.63" width="3.4" height="3.4" fill="#000000"/><rect x="566.14" y="414.69" width="3.4" height="3.4" fill="#000000"/><rect x="577.01" y="395.08" width="3.4" height="3.4" fill="#000000"/><rect x="587.89" y="353.17" width="3.4" height="3.4" fill="#000000"/><rect x="598.76" y="341.35" width="3.4" height="3.4" fill="#000000"/><rect x="609.63" y="345.73" width="3.4" height="3.4" fill="#000000"/><rect x="620.51" y="344.38" width="3.4" height="3.4" fill="#000000"/><rect x="631.38" y="344.66" width="3.4" height="3.4" fill="#000000"/><rect x="642.25" y="345.73" width="3.4" height="3.4" fill="#000000"/><rect x="653.13" y="347.96" width="3.4" height="3.4" fill="#000000"/><rect x="664" y="347.96" width="3.4" height="3.4" fill="#000000"/>
<path d="M491.73,470.53V472.13M489.73,470.53h4M489.73,472.13h4" stroke="#ff0000" stroke-opacity="0.6" stroke-width="0.55" fill="none"/><path d="M502.6,468.38V470.77M500.6,468.38h4M500.6,470.77h4" stroke="#ff0000" stroke-opacity="0.6" stroke-width="0.55" fill="none"/><path d="M513.48,465.72V468.9M511.48,465.72h4M511.48,468.9h4" stroke="#ff0000" stroke-opacity="0.6" stroke-width="0.55" fill="none"/><path d="M524.35,459.87V463.85M522.35,459.87h4M522.35,463.85h4" stroke="#ff0000" stroke-opacity="0.6" stroke-width="0.55" fill="none"/><path d="M535.22,455.57V461.14M533.22,455.57h4M533.22,461.14h4" stroke="#ff0000" stroke-opacity="0.6" stroke-width="0.55" fill="none"/><path d="M546.1,434.08V449.2M544.1,434.08h4M544.1,449.2h4" stroke="#ff0000" stroke-opacity="0.6" stroke-width="0.55" fill="none"/><path d="M556.97,418.83V430.77M554.97,418.83h4M554.97,430.77h4" stroke="#ff0000" stroke-opacity="0.6" stroke-width="0.55" fill="none"/><path d="M567.84,393.52V407.05M565.84,393.52h4M565.84,407.05h4" stroke="#ff0000" stroke-opacity="0.6" stroke-width="0.55" fill="none"/><path d="M578.71,356.43V378.71M576.71,356.43h4M576.71,378.71h4" stroke="#ff0000" stroke-opacity="0.6" stroke-width="0.55" fill="none"/><path d="M589.59,315.79V331.71M587.59,315.79h4M587.59,331.71h4" stroke="#ff0000" stroke-opacity="0.6" stroke-width="0.55" fill="none"/><path d="M600.46,298.48V312.81M598.46,298.48h4M598.46,312.81h4" stroke="#ff0000" stroke-opacity="0.6" stroke-width="0.55" fill="none"/><path d="M611.33,304.05V309.62M609.33,304.05h4M609.33,309.62h4" stroke="#ff0000" stroke-opacity="0.6" stroke-width="0.55" fill="none"/><path d="M622.21,304.97V308.95M620.21,304.97h4M620.21,308.95h4" stroke="#ff0000" stroke-opacity="0.6" stroke-width="0.55" fill="none"/><path d="M633.08,302.5V308.07M631.08,302.5h4M631.08,308.07h4" stroke="#ff0000" stroke-opacity="0.6" stroke-width="0.55" fill="none"/><path d="M643.95,301.26V310.02M641.95,301.26h4M641.95,310.02h4" stroke="#ff0000" stroke-opacity="0.6" stroke-width="0.55" fill="none"/><path d="M654.83,302.94V309.3M652.83,302.94h4M652.83,309.3h4" stroke="#ff0000" stroke-opacity="0.6" stroke-width="0.55" fill="none"/><path d="M665.7,299.04V309.38M663.7,299.04h4M663.7,309.38h4" stroke="#ff0000" stroke-opacity="0.6" stroke-width="0.55" fill="none"/><circle cx="426.49" cy="472.8" r="1.95" fill="#ff0000"/><circle cx="437.36" cy="472.8" r="1.95" fill="#ff0000"/><circle cx="448.24" cy="472.8" r="1.95" fill="#ff0000"/><circle cx="459.11" cy="472.8" r="1.95" fill="#ff0000"/><circle cx="469.98" cy="472.8" r="1.95" fill="#ff0000"/><circle cx="480.86" cy="472.2" r="1.95" fill="#ff0000"/><circle cx="491.73" cy="471.33" r="1.95" fill="#ff0000"/><circle cx="502.6" cy="469.58" r="1.95" fill="#ff0000"/><circle cx="513.48" cy="467.31" r="1.95" fill="#ff0000"/><circle cx="524.35" cy="461.86" r="1.95" fill="#ff0000"/><circle cx="535.22" cy="458.35" r="1.95" fill="#ff0000"/><circle cx="546.1" cy="441.64" r="1.95" fill="#ff0000"/><circle cx="556.97" cy="424.8" r="1.95" fill="#ff0000"/><circle cx="567.84" cy="400.29" r="1.95" fill="#ff0000"/><circle cx="578.71" cy="367.57" r="1.95" fill="#ff0000"/><circle cx="589.59" cy="323.75" r="1.95" fill="#ff0000"/><circle cx="600.46" cy="305.64" r="1.95" fill="#ff0000"/><circle cx="611.33" cy="306.84" r="1.95" fill="#ff0000"/><circle cx="622.21" cy="306.96" r="1.95" fill="#ff0000"/><circle cx="633.08" cy="305.28" r="1.95" fill="#ff0000"/><circle cx="643.95" cy="305.64" r="1.95" fill="#ff0000"/><circle cx="654.83" cy="306.12" r="1.95" fill="#ff0000"/><circle cx="665.7" cy="304.21" r="1.95" fill="#ff0000"/>
<polygon points="426.49,470.55 428.63,474.49 424.35,474.49" fill="#00ff00"/><polygon points="437.36,470.55 439.5,474.49 435.23,474.49" fill="#00ff00"/><polygon points="448.24,470.55 450.37,474.49 446.1,474.49" fill="#00ff00"/><polygon points="459.11,470.55 461.25,474.49 456.97,474.49" fill="#00ff00"/><polygon points="469.98,470.55 472.12,474.49 467.85,474.49" fill="#00ff00"/><polygon points="480.86,470.55 482.99,474.49 478.72,474.49" fill="#00ff00"/><polygon points="491.73,470.55 493.87,474.49 489.59,474.49" fill="#00ff00"/><polygon points="502.6,470.55 504.74,474.49 500.46,474.49" fill="#00ff00"/><polygon points="513.48,470.55 515.61,474.49 511.34,474.49" fill="#00ff00"/><polygon points="524.35,470.55 526.49,474.49 522.21,474.49" fill="#00ff00"/><polygon points="535.22,470.55 537.36,474.49 533.08,474.49" fill="#00ff00"/><polygon points="546.1,470.55 548.23,474.49 543.96,474.49" fill="#00ff00"/><polygon points="556.97,470.55 559.11,474.49 554.83,474.49" fill="#00ff00"/><polygon points="567.84,470.55 569.98,474.49 565.7,474.49" fill="#00ff00"/><polygon points="578.71,470.47 580.85,474.41 576.58,474.41" fill="#00ff00"/><polygon points="589.59,470.43 591.73,474.37 587.45,474.37" fill="#00ff00"/><polygon points="600.46,470.39 602.6,474.33 598.32,474.33" fill="#00ff00"/><polygon points="611.33,470.35 613.47,474.29 609.2,474.29" fill="#00ff00"/><polygon points="622.21,470.27 624.35,474.21 620.07,474.21" fill="#00ff00"/><polygon points="633.08,470.23 635.22,474.17 630.94,474.17" fill="#00ff00"/><polygon points="643.95,470.15 646.09,474.09 641.82,474.09" fill="#00ff00"/><polygon points="654.83,469.92 656.96,473.85 652.69,473.85" fill="#00ff00"/><polygon points="665.7,469.44 667.84,473.38 663.56,473.38" fill="#00ff00"/>
<path d="M622.21,454.73V460.3M620.21,454.73h4M620.21,460.3h4" stroke="#0000ff" stroke-opacity="0.6" stroke-width="0.55" fill="none"/><path d="M633.08,450.95V455.73M631.08,450.95h4M631.08,455.73h4" stroke="#0000ff" stroke-opacity="0.6" stroke-width="0.55" fill="none"/><path d="M643.95,450.79V453.98M641.95,450.79h4M641.95,453.98h4" stroke="#0000ff" stroke-opacity="0.6" stroke-width="0.55" fill="none"/><path d="M654.83,448.01V450.39M652.83,448.01h4M652.83,450.39h4" stroke="#0000ff" stroke-opacity="0.6" stroke-width="0.55" fill="none"/><polygon points="426.49,475.05 428.63,471.11 424.35,471.11" fill="#0000ff"/><polygon points="437.36,475.05 439.5,471.11 435.23,471.11" fill="#0000ff"/><polygon points="448.24,475.05 450.37,471.11 446.1,471.11" fill="#0000ff"/><polygon points="459.11,475.05 461.25,471.11 456.97,471.11" fill="#0000ff"/><polygon points="469.98,475.05 472.12,471.11 467.85,471.11" fill="#0000ff"/><polygon points="480.86,475.05 482.99,471.11 478.72,471.11" fill="#0000ff"/><polygon points="491.73,475.05 493.87,471.11 489.59,471.11" fill="#0000ff"/><polygon points="502.6,475.05 504.74,471.11 500.46,471.11" fill="#0000ff"/><polygon points="513.48,475.05 515.61,471.11 511.34,471.11" fill="#0000ff"/><polygon points="524.35,475.05 526.49,471.11 522.21,471.11" fill="#0000ff"/><polygon points="535.22,475.05 537.36,471.11 533.08,471.11" fill="#0000ff"/><polygon points="546.1,475.05 548.23,471.11 543.96,471.11" fill="#0000ff"/><polygon points="556.97,475.05 559.11,471.11 554.83,471.11" fill="#0000ff"/><polygon points="567.84,474.45 569.98,470.52 565.7,470.52" fill="#0000ff"/><polygon points="578.71,473.9 580.85,469.96 576.58,469.96" fill="#0000ff"/><polygon points="589.59,472.46 591.73,468.53 587.45,468.53" fill="#0000ff"/><polygon points="600.46,472.15 602.6,468.21 598.32,468.21" fill="#0000ff"/><polygon points="611.33,466.38 613.47,462.44 609.2,462.44" fill="#0000ff"/><polygon points="622.21,459.77 624.35,455.83 620.07,455.83" fill="#0000ff"/><polygon points="633.08,455.59 635.22,451.65 630.94,451.65" fill="#0000ff"/><polygon points="643.95,454.63 646.09,450.7 641.82,450.7" fill="#0000ff"/><polygon points="654.83,451.45 656.96,447.51 652.69,447.51" fill="#0000ff"/><polygon points="665.7,442.93 667.84,439 663.56,439" fill="#0000ff"/>
<polygon points="426.49,470.45 428.84,472.8 426.49,475.15 424.14,472.8" fill="#00ffff"/><polygon points="437.36,470.45 439.71,472.8 437.36,475.15 435.01,472.8" fill="#00ffff"/><polygon points="448.24,470.45 450.59,472.8 448.24,475.15 445.89,472.8" fill="#00ffff"/><polygon points="459.11,470.45 461.46,472.8 459.11,475.15 456.76,472.8" fill="#00ffff"/><polygon points="469.98,470.45 472.33,472.8 469.98,475.15 467.63,472.8" fill="#00ffff"/><polygon points="480.86,470.45 483.21,472.8 480.86,475.15 478.51,472.8" fill="#00ffff"/><polygon points="491.73,470.45 494.08,472.8 491.73,475.15 489.38,472.8" fill="#00ffff"/><polygon points="502.6,470.45 504.95,472.8 502.6,475.15 500.25,472.8" fill="#00ffff"/><polygon points="513.48,470.45 515.83,472.8 513.48,475.15 511.13,472.8" fill="#00ffff"/><polygon points="524.35,470.45 526.7,472.8 524.35,475.15 522,472.8" fill="#00ffff"/><polygon points="535.22,470.45 537.57,472.8 535.22,475.15 532.87,472.8" fill="#00ffff"/><polygon points="546.1,470.45 548.45,472.8 546.1,475.15 543.75,472.8" fill="#00ffff"/><polygon points="556.97,470.45 559.32,472.8 556.97,475.15 554.62,472.8" fill="#00ffff"/><polygon points="567.84,470.45 570.19,472.8 567.84,475.15 565.49,472.8" fill="#00ffff"/><polygon points="578.71,470.05 581.06,472.4 578.71,474.75 576.36,472.4" fill="#00ffff"/><polygon points="589.59,469.66 591.94,472.01 589.59,474.36 587.24,472.01" fill="#00ffff"/><polygon points="600.46,469.3 602.81,471.65 600.46,474 598.11,471.65" fill="#00ffff"/><polygon points="611.33,467.86 613.68,470.21 611.33,472.56 608.98,470.21" fill="#00ffff"/><polygon points="622.21,465 624.56,467.35 622.21,469.7 619.86,467.35" fill="#00ffff"/><polygon points="633.08,462.73 635.43,465.08 633.08,467.43 630.73,465.08" fill="#00ffff"/><polygon points="643.95,462.41 646.3,464.76 643.95,467.11 641.6,464.76" fill="#00ffff"/><polygon points="654.83,461.3 657.18,463.65 654.83,466 652.48,463.65" fill="#00ffff"/><polygon points="665.7,457.28 668.05,459.63 665.7,461.98 663.35,459.63" fill="#00ffff"/>
<path d="M611.33,438.85V442.83M609.33,438.85h4M609.33,442.83h4" stroke="#ff00ff" stroke-opacity="0.6" stroke-width="0.55" fill="none"/><path d="M622.21,434.59V442.55M620.21,434.59h4M620.21,442.55h4" stroke="#ff00ff" stroke-opacity="0.6" stroke-width="0.55" fill="none"/><path d="M633.08,430.65V439.41M631.08,430.65h4M631.08,439.41h4" stroke="#ff00ff" stroke-opacity="0.6" stroke-width="0.55" fill="none"/><path d="M643.95,426.08V434.04M641.95,426.08h4M641.95,434.04h4" stroke="#ff00ff" stroke-opacity="0.6" stroke-width="0.55" fill="none"/><path d="M654.83,423.41V427.39M652.83,423.41h4M652.83,427.39h4" stroke="#ff00ff" stroke-opacity="0.6" stroke-width="0.55" fill="none"/><path d="M665.7,417.64V423.21M663.7,417.64h4M663.7,423.21h4" stroke="#ff00ff" stroke-opacity="0.6" stroke-width="0.55" fill="none"/><polygon points="424.24,472.8 428.18,470.66 428.18,474.94" fill="#ff00ff"/><polygon points="435.11,472.8 439.05,470.66 439.05,474.94" fill="#ff00ff"/><polygon points="445.99,472.8 449.92,470.66 449.92,474.94" fill="#ff00ff"/><polygon points="456.86,472.8 460.8,470.66 460.8,474.94" fill="#ff00ff"/><polygon points="467.73,472.8 471.67,470.66 471.67,474.94" fill="#ff00ff"/><polygon points="478.61,472.8 482.54,470.66 482.54,474.94" fill="#ff00ff"/><polygon points="489.48,472.8 493.42,470.66 493.42,474.94" fill="#ff00ff"/><polygon points="500.35,472.8 504.29,470.66 504.29,474.94" fill="#ff00ff"/><polygon points="511.23,472.8 515.16,470.66 515.16,474.94" fill="#ff00ff"/><polygon points="522.1,472.8 526.04,470.66 526.04,474.94" fill="#ff00ff"/><polygon points="532.97,472.8 536.91,470.66 536.91,474.94" fill="#ff00ff"/><polygon points="543.85,472.8 547.78,470.66 547.78,474.94" fill="#ff00ff"/><polygon points="554.72,472.8 558.66,470.66 558.66,474.94" fill="#ff00ff"/><polygon points="565.59,472.2 569.53,470.07 569.53,474.34" fill="#ff00ff"/><polygon points="576.46,470.53 580.4,468.4 580.4,472.67" fill="#ff00ff"/><polygon points="587.34,463.81 591.28,461.67 591.28,465.94" fill="#ff00ff"/><polygon points="598.21,449.52 602.15,447.38 602.15,451.66" fill="#ff00ff"/><polygon points="609.08,440.84 613.02,438.71 613.02,442.98" fill="#ff00ff"/><polygon points="619.96,438.57 623.9,436.44 623.9,440.71" fill="#ff00ff"/><polygon points="630.83,435.03 634.77,432.89 634.77,437.17" fill="#ff00ff"/><polygon points="641.7,430.06 645.64,427.92 645.64,432.19" fill="#ff00ff"/><polygon points="652.58,425.4 656.51,423.26 656.51,427.54" fill="#ff00ff"/><polygon points="663.45,420.43 667.39,418.29 667.39,422.56" fill="#ff00ff"/>
<rect x="406.5" y="274.5" width="278" height="203.0" fill="none" stroke="#000" stroke-width="1"/>
<path d="M402,473.5H406.5M684.5,473.5h-4.5M404,453.5H406.5M684.5,453.5h-2.5M402,433.5H406.5M684.5,433.5h-4.5M404,413.5H406.5M684.5,413.5h-2.5M402,393.5H406.5M684.5,393.5h-4.5M404,373.5H406.5M684.5,373.5h-2.5M402,353.5H406.5M684.5,353.5h-4.5M404,333.5H406.5M684.5,333.5h-2.5M402,314.5H406.5M684.5,314.5h-4.5M404,294.5H406.5M684.5,294.5h-2.5M402,274.5H406.5M684.5,274.5h-4.5M406.5,477.5v4.5M406.5,274.5v4.5M417.5,477.5v2.5M417.5,274.5v2.5M423.5,477.5v2.5M423.5,274.5v2.5M428.5,477.5v2.5M428.5,274.5v2.5M431.5,477.5v2.5M431.5,274.5v2.5M434.5,477.5v2.5M434.5,274.5v2.5M437.5,477.5v2.5M437.5,274.5v2.5M439.5,477.5v2.5M439.5,274.5v2.5M441.5,477.5v2.5M441.5,274.5v2.5M442.5,477.5v4.5M442.5,274.5v4.5M453.5,477.5v2.5M453.5,274.5v2.5M460.5,477.5v2.5M460.5,274.5v2.5M464.5,477.5v2.5M464.5,274.5v2.5M468.5,477.5v2.5M468.5,274.5v2.5M470.5,477.5v2.5M470.5,274.5v2.5M473.5,477.5v2.5M473.5,274.5v2.5M475.5,477.5v2.5M475.5,274.5v2.5M477.5,477.5v2.5M477.5,274.5v2.5M478.5,477.5v4.5M478.5,274.5v4.5M489.5,477.5v2.5M489.5,274.5v2.5M496.5,477.5v2.5M496.5,274.5v2.5M500.5,477.5v2.5M500.5,274.5v2.5M504.5,477.5v2.5M504.5,274.5v2.5M507.5,477.5v2.5M507.5,274.5v2.5M509.5,477.5v2.5M509.5,274.5v2.5M511.5,477.5v2.5M511.5,274.5v2.5M513.5,477.5v2.5M513.5,274.5v2.5M515.5,477.5v4.5M515.5,274.5v4.5M525.5,477.5v2.5M525.5,274.5v2.5M532.5,477.5v2.5M532.5,274.5v2.5M536.5,477.5v2.5M536.5,274.5v2.5M540.5,477.5v2.5M540.5,274.5v2.5M543.5,477.5v2.5M543.5,274.5v2.5M545.5,477.5v2.5M545.5,274.5v2.5M547.5,477.5v2.5M547.5,274.5v2.5M549.5,477.5v2.5M549.5,274.5v2.5M551.5,477.5v4.5M551.5,274.5v4.5M562.5,477.5v2.5M562.5,274.5v2.5M568.5,477.5v2.5M568.5,274.5v2.5M572.5,477.5v2.5M572.5,274.5v2.5M576.5,477.5v2.5M576.5,274.5v2.5M579.5,477.5v2.5M579.5,274.5v2.5M581.5,477.5v2.5M581.5,274.5v2.5M583.5,477.5v2.5M583.5,274.5v2.5M585.5,477.5v2.5M585.5,274.5v2.5M587.5,477.5v4.5M587.5,274.5v4.5M598.5,477.5v2.5M598.5,274.5v2.5M604.5,477.5v2.5M604.5,274.5v2.5M609.5,477.5v2.5M609.5,274.5v2.5M612.5,477.5v2.5M612.5,274.5v2.5M615.5,477.5v2.5M615.5,274.5v2.5M617.5,477.5v2.5M617.5,274.5v2.5M619.5,477.5v2.5M619.5,274.5v2.5M621.5,477.5v2.5M621.5,274.5v2.5M623.5,477.5v4.5M623.5,274.5v4.5M634.5,477.5v2.5M634.5,274.5v2.5M640.5,477.5v2.5M640.5,274.5v2.5M645.5,477.5v2.5M645.5,274.5v2.5M648.5,477.5v2.5M648.5,274.5v2.5M651.5,477.5v2.5M651.5,274.5v2.5M653.5,477.5v2.5M653.5,274.5v2.5M656.5,477.5v2.5M656.5,274.5v2.5M657.5,477.5v2.5M657.5,274.5v2.5M659.5,477.5v4.5M659.5,274.5v4.5M670.5,477.5v2.5M670.5,274.5v2.5M676.5,477.5v2.5M676.5,274.5v2.5M681.5,477.5v2.5M681.5,274.5v2.5" stroke="#000" stroke-width="1" fill="none"/>
<g font-size="8.2" fill="#000"><text x="399.1" y="476.1" text-anchor="end">0</text><text x="399.1" y="436.3" text-anchor="end">10,000</text><text x="399.1" y="396.5" text-anchor="end">20,000</text><text x="399.1" y="356.7" text-anchor="end">30,000</text><text x="399.1" y="316.9" text-anchor="end">40,000</text><text x="399.1" y="277.1" text-anchor="end">50,000</text><text x="406.8" y="490.7" text-anchor="middle">0.01</text><text x="442.92" y="490.7" text-anchor="middle">0.1</text><text x="479.04" y="490.7" text-anchor="middle">1</text><text x="515.16" y="490.7" text-anchor="middle">10</text><text x="551.28" y="490.7" text-anchor="middle">100</text><text x="587.4" y="490.7" text-anchor="middle">1,000</text><text x="623.52" y="490.7" text-anchor="middle">10,000</text><text x="659.64" y="490.7" text-anchor="middle">100,000</text></g>
<text x="545.7" y="505.6" font-size="10" text-anchor="middle">Antibody (pM)</text>
<text transform="translate(365,376.6) rotate(-90)" font-size="10" text-anchor="middle">Fluorescence (arbitrary units)</text>
<g font-size="6.7" fill="#000"><text x="412.5" y="288.6">Detection of <tspan font-weight="bold" dx="0.9">bispecificity</tspan><tspan dx="0.9"> with Ocrelizumab-HRP:</tspan></text><rect x="418.65" y="293.75" width="2.5" height="2.5" fill="#000000"/><text x="429.3" y="297.2">BiLockCatcher rapid αOcrelizumab-αDupilumab</text><circle cx="419.9" cy="303.6" r="1.45" fill="#ff0000"/><text x="429.3" y="305.8">BiLockCatcher pure αOcrelizumab-αDupilumab</text><polygon points="419.9,310.4 421.61,313.55 418.19,313.55" fill="#00ff00"/><text x="429.3" y="314.4">BiCatcher αOcrelizumab-αOcrelizumab (control)</text><text x="412.5" y="331.6">Detection of <tspan font-weight="bold" dx="0.9">monospecificity</tspan><tspan dx="0.9"> with Dupilumab-HRP:</tspan></text><polygon points="419.9,339.8 421.61,336.65 418.19,336.65" fill="#0000ff"/><text x="429.3" y="340.2">BiLockCatcher rapid αOcrelizumab-αDupilumab</text><polygon points="419.9,344.9 421.6,346.6 419.9,348.3 418.2,346.6" fill="#00ffff"/><text x="429.3" y="348.8">BiLockCatcher pure αOcrelizumab-αDupilumab</text><polygon points="418.1,355.2 421.25,353.49 421.25,356.91" fill="#ff00ff"/><text x="429.3" y="357.4">BiCatcher αDupilumab-αDupilumab</text></g>
</g>
</svg>
</body>
</html>
